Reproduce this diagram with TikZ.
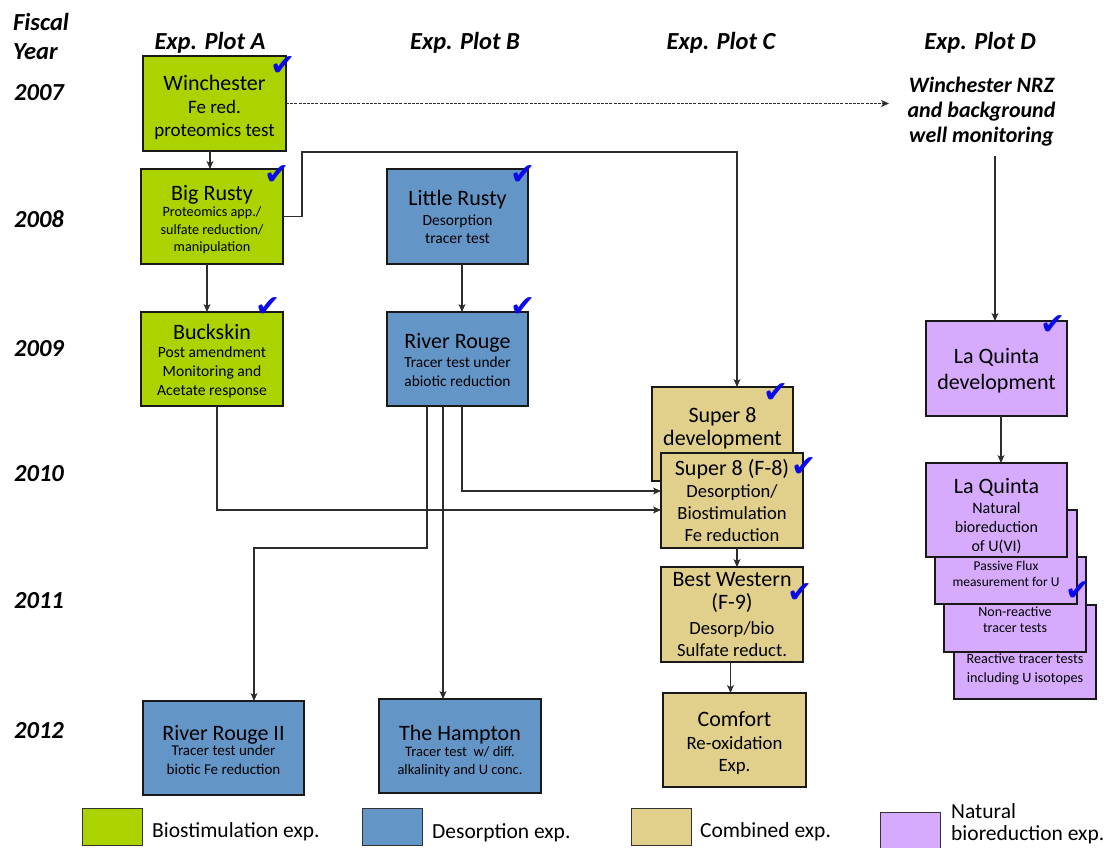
\documentclass[tikz,border=0pt]{standalone}
\usepackage{fontspec}
\setmainfont{Carlito}
\newfontfamily\symfont{DejaVu Sans}
\usetikzlibrary{arrows.meta}
\definecolor{cgreen}{RGB}{170,211,0}
\definecolor{cblue}{RGB}{99,149,199}
\definecolor{ctan}{RGB}{224,208,139}
\definecolor{cpurp}{RGB}{214,171,254}
\definecolor{cline}{RGB}{45,45,45}
\definecolor{cchk}{RGB}{10,10,235}
\newcommand{\fsz}[2]{\fontsize{#1}{#2}\selectfont}
\newcommand{\ttl}[1]{{\fsz{22}{22}#1}}
\newcommand{\expbox}[9]{%
  \node[box,fill=#2,minimum width={(#5-#3)*1pt},minimum height={(#6-#4)*1pt}] (#1) at ({(#3+#5)/2},{(#4+#6)/2}) {};
  \node[txt,font=#8] (#1-t) at ([yshift=#7pt]#1.center) {#9};}
\begin{document}
\begin{tikzpicture}[x=1pt,y=-1pt,
  box/.style={draw=black!90,line width=1.3pt,rectangle,inner sep=0pt,outer sep=0pt},
  txt/.style={align=center,inner sep=0pt,outer sep=0pt},
  head/.style={font=\fsz{24.5}{26}\bfseries\itshape,inner sep=0pt},
  lgbox/.style={draw=black!80,line width=1pt,inner sep=0pt,outer sep=0pt},
  lgtxt/.style={font=\fsz{21.5}{23},inner sep=0pt,anchor=base west},
  chk/.style={text=cchk,font=\symfont\fsz{30}{30},inner sep=0pt},
  arr/.style={draw=cline,line width=1.1pt,-{Stealth[length=8pt,width=7pt,inset=2.2pt]}},
  dasharr/.style={draw=cline,line width=0.8pt,dash pattern=on 3pt off 1.2pt,-{Stealth[length=8pt,width=7pt,inset=2.2pt]}}]
\useasboundingbox (0,0) rectangle (1111,848);

% headers
\node[head,anchor=base west] (fiscal) at (13,31) {Fiscal};
\node[head,anchor=base west] (year) at (13,60) {Year};
\node[head,anchor=base west] (y2007) at (14,101) {2007};
\node[head,anchor=base west] (y2008) at (14,227.5) {2008};
\node[head,anchor=base west] (y2009) at (14,356) {2009};
\node[head,anchor=base west] (y2010) at (14,481) {2010};
\node[head,anchor=base west] (y2011) at (14,608) {2011};
\node[head,anchor=base west] (y2012) at (14,738) {2012};
\node[head,anchor=base] (pa) at (210,50) {Exp. Plot A};
\node[head,anchor=base] (pb) at (465,50) {Exp. Plot B};
\node[head,anchor=base] (pc) at (721,50) {Exp. Plot C};
\node[head,anchor=base] (pd) at (980,50) {Exp. Plot D};

% boxes
\expbox{win}{cgreen}{143}{56}{286}{151}{-3.8}{\fsz{19}{23}}{\ttl{Winchester}\\Fe red.\\proteomics test}
\expbox{br}{cgreen}{141}{169}{283}{264}{-3.5}{\fsz{14.2}{17.5}}{\ttl{Big Rusty}\\[-1.5pt]Proteomics app./\\sulfate reduction/\\manipulation}
\expbox{bk}{cgreen}{141}{312}{283}{406}{-2}{\fsz{15.6}{19}}{\ttl{Buckskin}\\[-1pt]Post amendment\\Monitoring and\\Acetate response}
\expbox{lr}{cblue}{387}{169}{528}{264}{0}{\fsz{15.5}{18}}{\ttl{Little Rusty}\\[2pt]Desorption\\tracer test}
\expbox{rr}{cblue}{387}{312}{528}{406}{-1}{\fsz{15.4}{19.5}}{\ttl{River Rouge}\\[-0.5pt]Tracer test under\\abiotic reduction}
\expbox{s8d}{ctan}{652}{387}{793}{481}{6}{\fsz{22}{23}}{Super 8\\development}
\expbox{s8}{ctan}{661}{453}{803}{548}{0}{\fsz{18.6}{22}}{\ttl{Super 8 (F-8)}\\Desorption/\\Biostimulation\\Fe reduction}
\expbox{bw}{ctan}{661}{567}{803}{662}{0}{\fsz{18.6}{22.5}}{\ttl{Best Western}\\[0.5pt]\ttl{(F-9)}\\[2.5pt]Desorp/bio\\Sulfate reduct.}
\expbox{cf}{ctan}{663}{693}{806}{787}{-3}{\fsz{18.8}{22.5}}{\ttl{Comfort}\\Re-oxidation\\Exp.}
\expbox{rrb}{cblue}{143}{701}{304}{795}{-2}{\fsz{15}{19}}{\ttl{River Rouge II}\\[-3.5pt]Tracer test under\\biotic Fe reduction}
\expbox{hp}{cblue}{379}{699}{541}{793}{-5}{\fsz{14.5}{18}}{\ttl{The Hampton}\\[-2pt]Tracer test\ \ w/ diff.\\alkalinity and U conc.}
\expbox{lqd}{cpurp}{926}{321}{1067}{416}{-2.5}{\fsz{22}{26}}{La Quinta\\development}
\expbox{rt}{cpurp}{954}{605}{1096}{699}{-17.5}{\fsz{14.2}{18.5}}{Reactive tracer tests\\including U isotopes}
\expbox{nr}{cpurp}{944}{557}{1086}{652}{-15.5}{\fsz{14}{16}}{Non-reactive\\tracer tests}
\expbox{pf}{cpurp}{935}{510}{1077}{604}{-17}{\fsz{13.5}{16}}{Passive Flux\\measurement for U}
\expbox{lq}{cpurp}{926}{463}{1067}{557}{-6}{\fsz{16}{19}}{\ttl{La Quinta}\\[1pt]Natural\\bioreduction\\of U(VI)}

% Winchester NRZ text
\node[txt,font=\fsz{22}{25}\bfseries\itshape] (nrz) at (981.5,111.5) {Winchester NRZ\\and background\\well monitoring};
\coordinate (nrzend) at (889,102);
\coordinate (brtop) at (302,152);
\coordinate (rrturn) at (254,548);

% connectors
\draw[dasharr] (win.east) -- (win.east -| nrzend);
\draw[arr] ([xshift=-4.5pt]win.south) -- ([xshift=-4.5pt]win.south |- br.north);
\draw[arr] (br.east) -| (brtop) -| ([xshift=14.5pt]s8d.north);
\draw[arr] ([xshift=-5pt]br.south) -- ([xshift=-5pt]br.south |- bk.north);
\draw[arr] ([xshift=4.5pt]lr.south) -- ([xshift=4.5pt]lr.south |- rr.north);
\draw[arr] ([xshift=5pt]bk.south) |- ([yshift=-9.5pt]s8.west);
\draw[arr] ([xshift=4.5pt]rr.south) |- ([yshift=9.5pt]s8.west);
\draw[arr] ([xshift=-30.5pt]rr.south) |- (rrturn) -- (rrturn |- rrb.north);
\draw[arr] ([xshift=-14.5pt]rr.south) -- ([xshift=-14.5pt]rr.south |- hp.north);
\draw[arr] ([xshift=5pt]s8.south) -- ([xshift=5pt]s8.south |- bw.north);
\draw[arr] ([xshift=-1.5pt]bw.south) -- ([xshift=-1.5pt]bw.south |- cf.north);
\draw[arr] ([xshift=13.5pt,yshift=-10pt]nrz.south) -- ([xshift=13.5pt]nrz.south |- lqd.north);
\draw[arr] ([xshift=4.5pt]lqd.south) -- ([xshift=4.5pt]lqd.south |- lq.north);

% check marks
\node[chk] (k1) at (283,66) {✔};
\node[chk] (k2) at (277,175) {✔};
\node[chk] (k3) at (268,307) {✔};
\node[chk] (k4) at (523,175) {✔};
\node[chk] (k5) at (523,307) {✔};
\node[chk] (k6) at (776,393) {✔};
\node[chk] (k7) at (804,467) {✔};
\node[chk] (k8) at (800,593) {✔};
\node[chk] (k9) at (1053,325) {✔};
\node[chk] (k10) at (1078,591) {✔};

% legend
\draw[lgbox,fill=cgreen] (82,808) rectangle (142,845);
\node[lgtxt] (lg1) at (152,837) {Biostimulation exp.};
\draw[lgbox,fill=cblue] (362,808) rectangle (422,845);
\node[lgtxt] (lg2) at (432,838) {Desorption exp.};
\draw[lgbox,fill=ctan] (631,808) rectangle (691,845);
\node[lgtxt] (lg3) at (700,837) {Combined exp.};
\draw[lgbox,fill=cpurp] (880,812) rectangle (940,852);
\node[lgtxt] (lg4) at (951,818) {Natural};
\node[lgtxt] (lg5) at (951,840) {bioreduction exp.};
\end{tikzpicture}
\end{document}
